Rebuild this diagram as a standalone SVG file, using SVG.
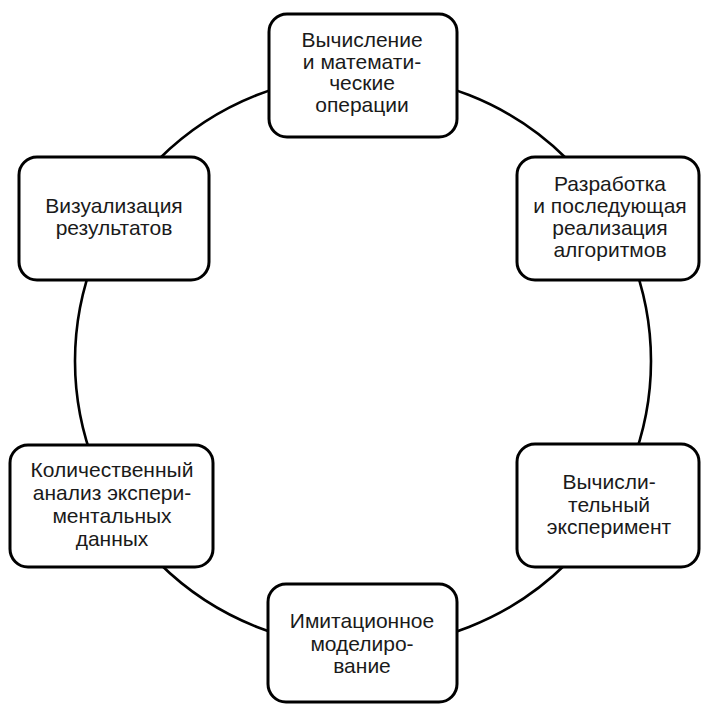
<svg xmlns="http://www.w3.org/2000/svg" width="701" height="704" viewBox="0 0 701 704">
<style>
.box{fill:#fff;stroke:#000;stroke-width:3}
.ring{fill:none;stroke:#000;stroke-width:2.6}
text{font-family:"Liberation Sans",Arial,sans-serif;font-size:21px;fill:#1a1a1a;text-anchor:middle}
</style>
<rect width="701" height="704" fill="#fff"/>
<g id="connectors">
<ellipse class="ring" cx="363" cy="361" rx="288" ry="286"/>
</g>
<g id="n1">
<rect class="box" x="269" y="14" width="188" height="123" rx="18"/>
<text x="362" y="47">Вычисление</text>
<text x="362" y="68.5">и математи-</text>
<text x="362" y="90">ческие</text>
<text x="362" y="111.5">операции</text>
</g>
<g id="n2">
<rect class="box" x="517" y="157" width="182" height="123" rx="18"/>
<text x="610" y="191">Разработка</text>
<text x="610" y="213">и последующая</text>
<text x="610" y="235">реализация</text>
<text x="610" y="257">алгоритмов</text>
</g>
<g id="n3">
<rect class="box" x="19" y="157" width="190" height="123" rx="18"/>
<text x="114" y="213">Визуализация</text>
<text x="114" y="235">результатов</text>
</g>
<g id="n4">
<rect class="box" x="10" y="445" width="203" height="122" rx="18"/>
<text x="112" y="477">Количественный</text>
<text x="112" y="500">анализ экспери-</text>
<text x="112" y="523">ментальных</text>
<text x="112" y="546">данных</text>
</g>
<g id="n5">
<rect class="box" x="517" y="444" width="182" height="123" rx="18"/>
<text x="609" y="489">Вычисли-</text>
<text x="609" y="511.5">тельный</text>
<text x="609" y="534">эксперимент</text>
</g>
<g id="n6">
<rect class="box" x="268" y="584" width="189" height="118" rx="18"/>
<text x="362" y="628">Имитационное</text>
<text x="362" y="651">моделиро-</text>
<text x="362" y="673">вание</text>
</g>
</svg>
